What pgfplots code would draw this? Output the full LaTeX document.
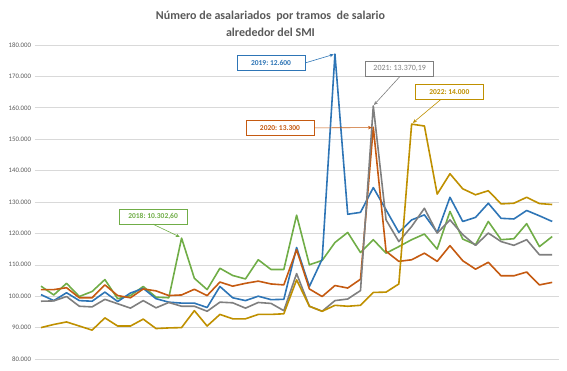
\documentclass[border=0pt]{standalone}
\usepackage{pgfplots}
\pgfplotsset{compat=1.18}
\usepackage{pgfplotstable}
\usepackage{fontspec}
\setmainfont{Carlito}
\usetikzlibrary{arrows.meta}

\definecolor{c18}{HTML}{70AD47}
\definecolor{c19}{HTML}{2E75B6}
\definecolor{c20}{HTML}{C55A11}
\definecolor{c21}{HTML}{7F7F7F}
\definecolor{c22}{HTML}{BF9000}
\definecolor{gridc}{HTML}{D9D9D9}
\definecolor{txt}{HTML}{595959}

\pgfplotstableread{
i y18 y19 y20 y21 y22
0 103.2 100.5 102.1 98.4 90.0
1 100.4 98.6 102.1 98.5 91.0
2 104.1 101.1 102.7 99.9 91.8
3 99.9 98.6 99.5 96.8 90.5
4 101.5 98.4 99.5 96.6 89.2
5 105.3 101.3 103.6 99.0 93.1
6 99.2 98.3 100.2 97.6 90.5
7 100.2 101.0 99.5 96.2 90.5
8 103.1 102.5 102.3 98.6 92.7
9 99.7 99.2 101.7 96.3 89.7
10 99.5 98.1 100.2 98.0 89.9
11 118.5 97.8 100.4 96.8 90.0
12 105.7 97.8 102.2 96.8 95.4
13 102.1 96.4 100.2 95.2 90.5
14 108.9 103.1 104.5 98.1 94.2
15 106.6 99.5 103.2 97.9 92.8
16 105.5 98.6 104.1 96.2 92.8
17 111.6 100.0 104.8 98.0 94.2
18 108.5 98.9 103.9 97.7 94.2
19 108.5 99.0 103.6 95.4 94.4
20 125.8 115.5 114.8 107.2 105.2
21 110.0 103.1 102.3 96.8 96.8
22 111.4 111.8 99.9 95.2 95.2
23 117.1 177.1 103.4 98.6 97.1
24 120.3 126.1 102.6 99.1 96.8
25 113.9 126.7 105.4 101.8 97.1
26 118.0 134.6 153.8 160.6 101.2
27 113.7 127.5 114.3 124.3 101.3
28 115.8 120.3 111.1 117.4 103.9
29 118.0 124.3 111.6 122.2 154.8
30 119.8 125.9 113.7 128.0 154.2
31 115.0 120.3 111.1 120.1 132.5
32 127.0 131.5 116.1 124.3 139.0
33 118.2 123.8 111.3 119.6 134.2
34 116.4 125.1 108.6 116.2 132.3
35 123.8 129.6 110.8 120.1 133.6
36 118.0 124.8 106.5 117.4 129.4
37 118.3 124.6 106.5 116.2 129.6
38 123.1 127.3 107.7 118.0 131.5
39 115.8 125.6 103.6 113.2 129.5
40 119.0 123.8 104.4 113.2 129.2
}\data

\begin{document}
\begin{tikzpicture}
\useasboundingbox (0pt,0pt) rectangle (567pt,370pt);
\node[align=center, font=\fontsize{12}{17.5}\selectfont\bfseries, text=txt] at (270.5pt,346pt) {Número de asalariados\ \ por tramos\ \ de salario\\alrededor del SMI};
\begin{axis}[
  at={(34.6pt,11pt)}, anchor=south west,
  scale only axis, width=524pt, height=314pt,
  xmin=-0.5, xmax=40.5, ymin=80, ymax=180,
  ytick={80,90,100,110,120,130,140,150,160,170,180},
  yticklabels={80.000,90.000,100.000,110.000,120.000,130.000,140.000,150.000,160.000,170.000,180.000},
  xtick=\empty,
  axis line style={draw=none},
  major tick length=0pt,
  ymajorgrids, grid style={gridc, line width=0.6pt},
  yticklabel style={font=\fontsize{6.8}{8}\selectfont, text=txt},
  clip=false,
  every axis plot/.append style={line width=1.6pt, mark=none, line join=round},
]
\addplot[c18] table[x=i,y=y18]{\data};
\addplot[c19] table[x=i,y=y19]{\data};
\addplot[c20] table[x=i,y=y20]{\data};
\addplot[c21] table[x=i,y=y21]{\data};
\addplot[c22] table[x=i,y=y22]{\data};

\tikzset{ann/.style={draw=#1, fill=white, text=#1, font=\fontsize{7.5}{9}\selectfont\bfseries, minimum width=68pt, minimum height=15pt, inner sep=0pt, line width=0.6pt},
  annarrow/.style={#1, line width=0.6pt, -{Stealth[length=4pt,width=3.5pt]}}}

\node[ann=c19] (a19) at (axis cs:18.0,174.3) {2019:\ 12.600};
\draw[annarrow=c19] (a19.east) -- (axis cs:22.9,177.0);

\node[ann=c21, font=\fontsize{8}{9}\selectfont] (a21) at (axis cs:28.07,172.4) {2021:\ 13.370,19};
\draw[annarrow=c21] (a21.south) -- (axis cs:26.05,160.9);

\node[ann=c20] (a20) at (axis cs:18.7,153.6) {2020:\ 13.300};
\draw[annarrow=c20] (a20.east) -- (axis cs:25.9,153.7);

\node[ann=c22] (a22) at (axis cs:31.95,165.0) {2022:\ 14.000};
\draw[annarrow=c22] ([xshift=-9pt]a22.south) -- (axis cs:29.1,155.2);

\node[ann=c18] (a18) at (axis cs:8.77,125.4) {2018:\ 10.302,60};
\draw[annarrow=c18] (a18.south) -- (axis cs:10.85,118.9);
\end{axis}
\end{tikzpicture}
\end{document}
